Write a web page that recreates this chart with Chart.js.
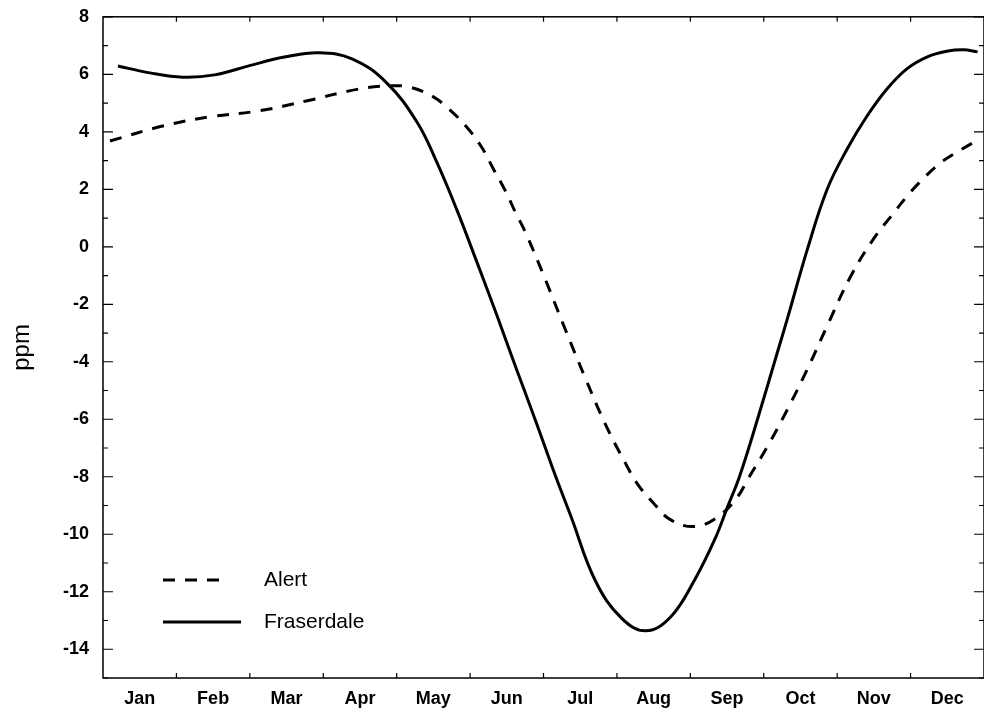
<!DOCTYPE html>
<html>
<head>
<meta charset="utf-8">
<script src="https://cdn.jsdelivr.net/npm/chart.js"></script>
<style>
  body { margin: 0; background: #fff; }
  canvas { display: block; }
</style>
</head>
<body>
<canvas id="canvas" width="984" height="714"></canvas>
<script>
// month names, placed in the middle of each month
var months = ["Jan","Feb","Mar","Apr","May","Jun","Jul","Aug","Sep","Oct","Nov","Dec"];
var monthMid = [0.5,1.5,2.5,3.5,4.5,5.5,6.5,7.5,8.5,9.5,10.5,11.5];
var yTicks = [-15,-14,-13,-12,-11,-10,-9,-8,-7,-6,-5,-4,-3,-2,-1,0,1,2,3,4,5,6,7,8];

// Alert (dashed) - x in months from 1 Jan
var alertX = [0.095,0.814,1.452,2.130,2.768,3.487,3.935,4.166,4.478,4.708,4.953,5.156,5.319,5.482,5.617,5.753,6.024,6.296,6.567,6.839,7.110,7.286,7.517,7.734,8.060,8.372,8.643,8.779,9.050,9.322,9.593,9.864,10.190,10.502,10.746,10.949,11.126,11.398,11.669,11.940];
var alertY = [3.68,4.20,4.52,4.73,5.07,5.49,5.60,5.56,5.25,4.80,4.17,3.47,2.70,1.94,1.20,0.51,-1.13,-2.87,-4.55,-6.15,-7.50,-8.27,-8.97,-9.50,-9.73,-9.40,-8.70,-8.10,-6.95,-5.66,-4.26,-2.75,-1.00,0.30,1.10,1.75,2.25,2.90,3.35,3.75];

// Fraserdale (solid)
var fraserX = [0.204,0.638,1.085,1.520,1.995,2.470,2.944,3.392,3.853,4.274,4.545,4.817,5.088,5.360,5.631,5.902,6.160,6.377,6.703,7.056,7.395,7.734,8.060,8.331,8.508,8.670,8.915,9.186,9.322,9.593,9.864,10.136,10.407,10.678,10.949,11.221,11.493,11.723,11.913];
var fraserY = [6.29,6.05,5.90,5.98,6.30,6.60,6.75,6.54,5.73,4.35,2.95,1.30,-0.50,-2.35,-4.25,-6.12,-7.95,-9.40,-11.60,-12.90,-13.36,-12.87,-11.58,-10.19,-9.04,-7.99,-6.00,-3.67,-2.50,-0.10,2.00,3.40,4.55,5.49,6.19,6.60,6.80,6.85,6.78];

function pts(xs, ys){
  var out = [];
  for (var i = 0; i < xs.length; i++) out.push({x: xs[i], y: ys[i]});
  return out;
}

// box round the plot with inward tick marks
var framePlugin = {
  id: 'frame',
  afterDatasetsDraw: function(chart){
    var ctx = chart.ctx, a = chart.chartArea;
    var xs = chart.scales.x, ys = chart.scales.y;
    ctx.save();
    ctx.strokeStyle = '#000';
    ctx.lineWidth = 1.5;
    ctx.setLineDash([]);
    ctx.strokeRect(a.left, a.top, a.right - a.left, a.bottom - a.top);
    ctx.lineWidth = 1.2;
    ctx.beginPath();
    yTicks.forEach(function(v){
      var p = ys.getPixelForValue(v);
      var len = (v % 2 === 0) ? 10 : 5;
      ctx.moveTo(a.left, p); ctx.lineTo(a.left + len, p);
      ctx.moveTo(a.right, p); ctx.lineTo(a.right - len, p);
    });
    for (var m = 1; m < 12; m++){
      var px = xs.getPixelForValue(m);
      ctx.moveTo(px, a.bottom); ctx.lineTo(px, a.bottom - 5);
      ctx.moveTo(px, a.top); ctx.lineTo(px, a.top + 5);
    }
    ctx.stroke();
    ctx.restore();
  }
};

// legend inside the plot, lower left
var legendPlugin = {
  id: 'innerLegend',
  afterDatasetsDraw: function(chart){
    var ctx = chart.ctx, a = chart.chartArea;
    var rows = [
      {ds: chart.data.datasets[0], len: 63, y: a.bottom - 98},
      {ds: chart.data.datasets[1], len: 78, y: a.bottom - 56}
    ];
    ctx.save();
    ctx.font = '21px "Liberation Sans", Arial, sans-serif';
    ctx.fillStyle = '#000';
    ctx.textBaseline = 'middle';
    rows.forEach(function(r){
      var x0 = a.left + 60;
      ctx.strokeStyle = '#000';
      ctx.lineWidth = r.ds.borderWidth;
      ctx.setLineDash(r.ds.borderDash || []);
      ctx.beginPath();
      ctx.moveTo(x0, r.y); ctx.lineTo(x0 + r.len, r.y);
      ctx.stroke();
      ctx.fillText(r.ds.label, a.left + 161, r.y);
    });
    ctx.restore();
  }
};

var config = {
  type: 'line',
  data: {
    datasets: [
      {
        label: 'Alert',
        data: pts(alertX, alertY),
        borderColor: '#000',
        borderWidth: 3,
        borderDash: [12, 10],
        pointRadius: 0,
        fill: false,
        tension: 0.4
      },
      {
        label: 'Fraserdale',
        data: pts(fraserX, fraserY),
        borderColor: '#000',
        borderWidth: 3,
        pointRadius: 0,
        fill: false,
        tension: 0.4
      }
    ]
  },
  options: {
    responsive: false,
    animation: false,
    layout: { padding: { top: 12, right: -3, left: 0, bottom: 0 } },
    plugins: { legend: { display: false }, tooltip: { enabled: false } },
    scales: {
      x: {
        type: 'linear',
        min: 0,
        max: 12,
        grid: { display: false },
        border: { display: false },
        afterBuildTicks: function(scale){
          scale.ticks = monthMid.map(function(v){ return {value: v}; });
        },
        afterFit: function(scale){ scale.height = 36; },
        ticks: {
          autoSkip: false,
          maxRotation: 0,
          padding: 2,
          color: '#000',
          font: { family: '"Liberation Sans", Arial, sans-serif', size: 18, weight: 'bold' },
          callback: function(value, index){ return months[index]; }
        }
      },
      y: {
        type: 'linear',
        min: -15,
        max: 8,
        grid: { display: false },
        border: { display: false },
        afterBuildTicks: function(scale){
          scale.ticks = yTicks.map(function(v){ return {value: v}; });
        },
        afterFit: function(scale){ scale.width = 103; },
        ticks: {
          autoSkip: false,
          padding: 6,
          color: '#000',
          font: { family: '"Liberation Sans", Arial, sans-serif', size: 18, weight: 'bold' },
          callback: function(value){ return (value % 2 === 0) ? String(value) : ''; }
        },
        title: {
          display: true,
          text: 'ppm',
          color: '#000',
          padding: { top: 8, bottom: 0 },
          font: { family: '"Liberation Sans", Arial, sans-serif', size: 24 }
        }
      }
    }
  },
  plugins: [framePlugin, legendPlugin]
};

new Chart(document.getElementById('canvas'), config);
</script>
</body>
</html>
